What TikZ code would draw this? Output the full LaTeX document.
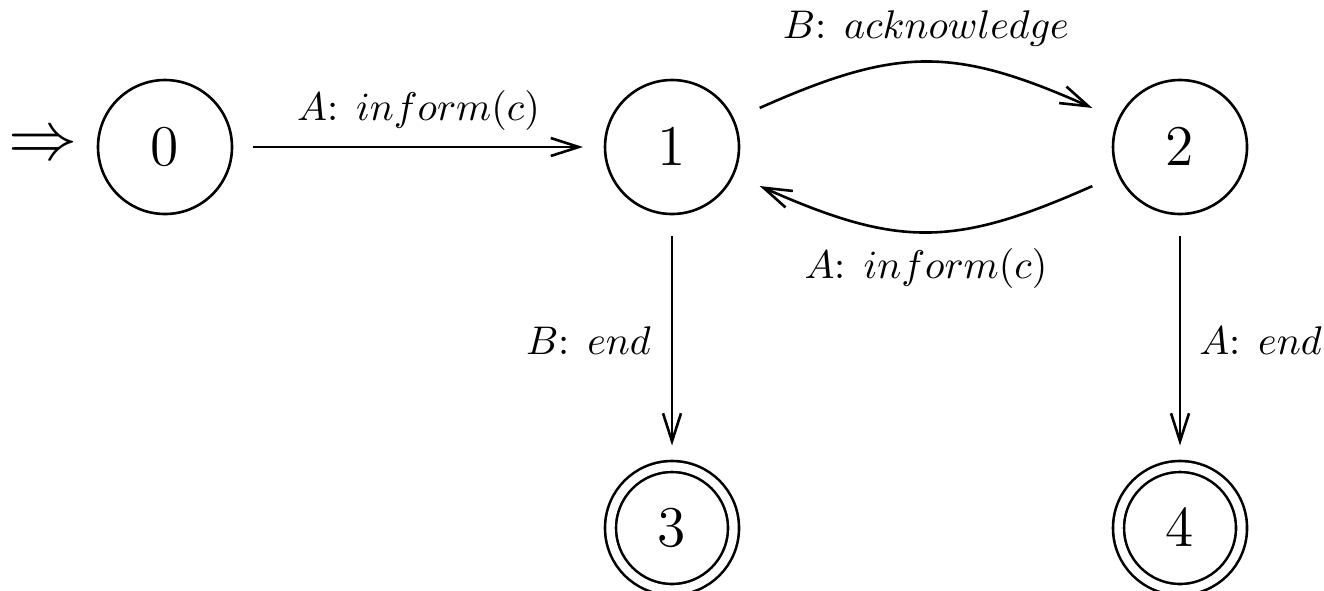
\documentclass[tikz,border=0pt]{standalone}
\usetikzlibrary{arrows.meta}
\begin{document}
\begin{tikzpicture}[x=0.25pt,y=-0.25pt,
  state/.style={circle,draw,line width=0.65pt,minimum size=33.5pt,inner sep=0pt,outer sep=0pt,font=\Large},
  accept/.style={state,double,double distance=2.1pt,minimum size=30.75pt},
  trans/.style={line width=0.65pt,-{Straight Barb[length=7pt,width=4.5pt]}},
  lab/.style={inner sep=0pt}]
\useasboundingbox (0,0) rectangle (1324,590);
\node[state] (q0) at (165,147) {$0$};
\node[state] (q1) at (672,147) {$1$};
\node[state] (q2) at (1180,147) {$2$};
\node[accept] (q3) at (672,528) {$3$};
\node[accept] (q4) at (1180,528) {$4$};
\node[inner sep=0pt,anchor=east,font=\fontsize{16}{18}\selectfont] (init) at (78,147) {$\Rightarrow$};
\draw[trans,shorten <=5.25pt,shorten >=5.5pt] (q0) -- node[lab,above=3.8pt] {$A$: $inform(c)$} (q1);
\draw[trans,shorten <=7.25pt,shorten >=7.25pt] (q1) to[bend left=24,looseness=1.2] node[lab,above=4.4pt] {$B$: $acknowledge$} (q2);
\draw[trans,shorten <=7.25pt,shorten >=7.25pt] (q2) to[bend left=24,looseness=1.2] node[lab,below=4.4pt] {$A$: $inform(c)$} (q1);
\draw[trans,shorten <=5.5pt,shorten >=5.25pt] (q1) -- node[lab,left=5pt] {$B$: $end$} (q3);
\draw[trans,shorten <=5.5pt,shorten >=5.25pt] (q2) -- node[lab,right=4.5pt] {$A$: $end$} (q4);
\end{tikzpicture}
\end{document}
